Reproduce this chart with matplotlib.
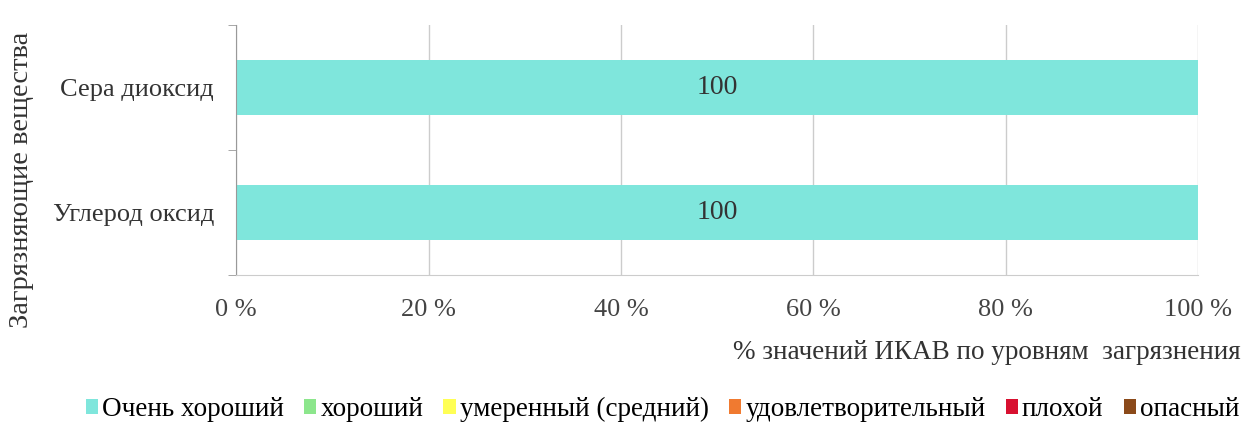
import matplotlib.pyplot as plt

plt.rcParams['font.family'] = ['Liberation Serif', 'DejaVu Serif']

# Categories (bottom to top)
substances = ['Углерод оксид', 'Сера диоксид']
levels = ['Очень хороший', 'хороший', 'умеренный (средний)',
          'удовлетворительный', 'плохой', 'опасный']
colors = ['#7fe6dc', '#8ce68c', '#ffff55', '#f07a30', '#d81030', '#8b4a1a']

# Share of values by level, % (per substance)
very_good = [100, 100]
good = [0, 0]
moderate = [0, 0]
satisfactory = [0, 0]
bad = [0, 0]
dangerous = [0, 0]
series = [very_good, good, moderate, satisfactory, bad, dangerous]

fig = plt.figure(figsize=(12.43, 4.26), dpi=100)
ax = fig.add_axes([0.19, 0.354, 0.774, 0.587])

y = list(range(len(substances)))
left = [0] * len(substances)
for vals, color, label in zip(series, colors, levels):
    bars = ax.barh(y, vals, left=left, height=0.44, color=color, label=label)
    for b, v in zip(bars, vals):
        if v > 0:
            ax.text(b.get_x() + b.get_width() / 2, b.get_y() + b.get_height() / 2,
                    str(v), ha='center', va='center', fontsize=20, color='#333333')
    left = [l + v for l, v in zip(left, vals)]

ax.set_xlim(0, 100)
ax.set_ylim(-0.5, 1.5)
ax.set_xticks([0, 20, 40, 60, 80, 100])
ax.set_xticklabels(['{} %'.format(t) for t in [0, 20, 40, 60, 80, 100]],
                   fontsize=19, color='#444444')
ax.set_yticks(y)
ax.set_yticklabels(substances, fontsize=19, color='#333333')
ax.set_yticks([-0.5, 0.5, 1.5], minor=True)
ax.tick_params(axis='y', which='major', length=0, pad=16)
ax.tick_params(axis='y', which='minor', length=6, color='#999999')
ax.tick_params(axis='x', length=0, pad=17)

ax.grid(axis='x', color='#cccccc', linewidth=1)
ax.set_axisbelow(True)
for s in ['top', 'right']:
    ax.spines[s].set_visible(False)
ax.spines['left'].set_color('#999999')
ax.spines['bottom'].set_color('#cccccc')

fig.text(0.017, 0.577, 'Загрязняющие вещества', rotation=90,
         ha='center', va='center', fontsize=20.5, color='#333333')
fig.text(0.998, 0.173, '% значений ИКАВ по уровням  загрязнения',
         ha='right', va='center', fontsize=19.5, color='#333333')

ax.legend(loc='center', bbox_to_anchor=(0.533, 0.038), bbox_transform=fig.transFigure,
          ncol=6, frameon=False, fontsize=19.5, handlelength=0.45, handleheight=0.45,
          handletextpad=0.15, columnspacing=0.75)

plt.savefig('out.png')
